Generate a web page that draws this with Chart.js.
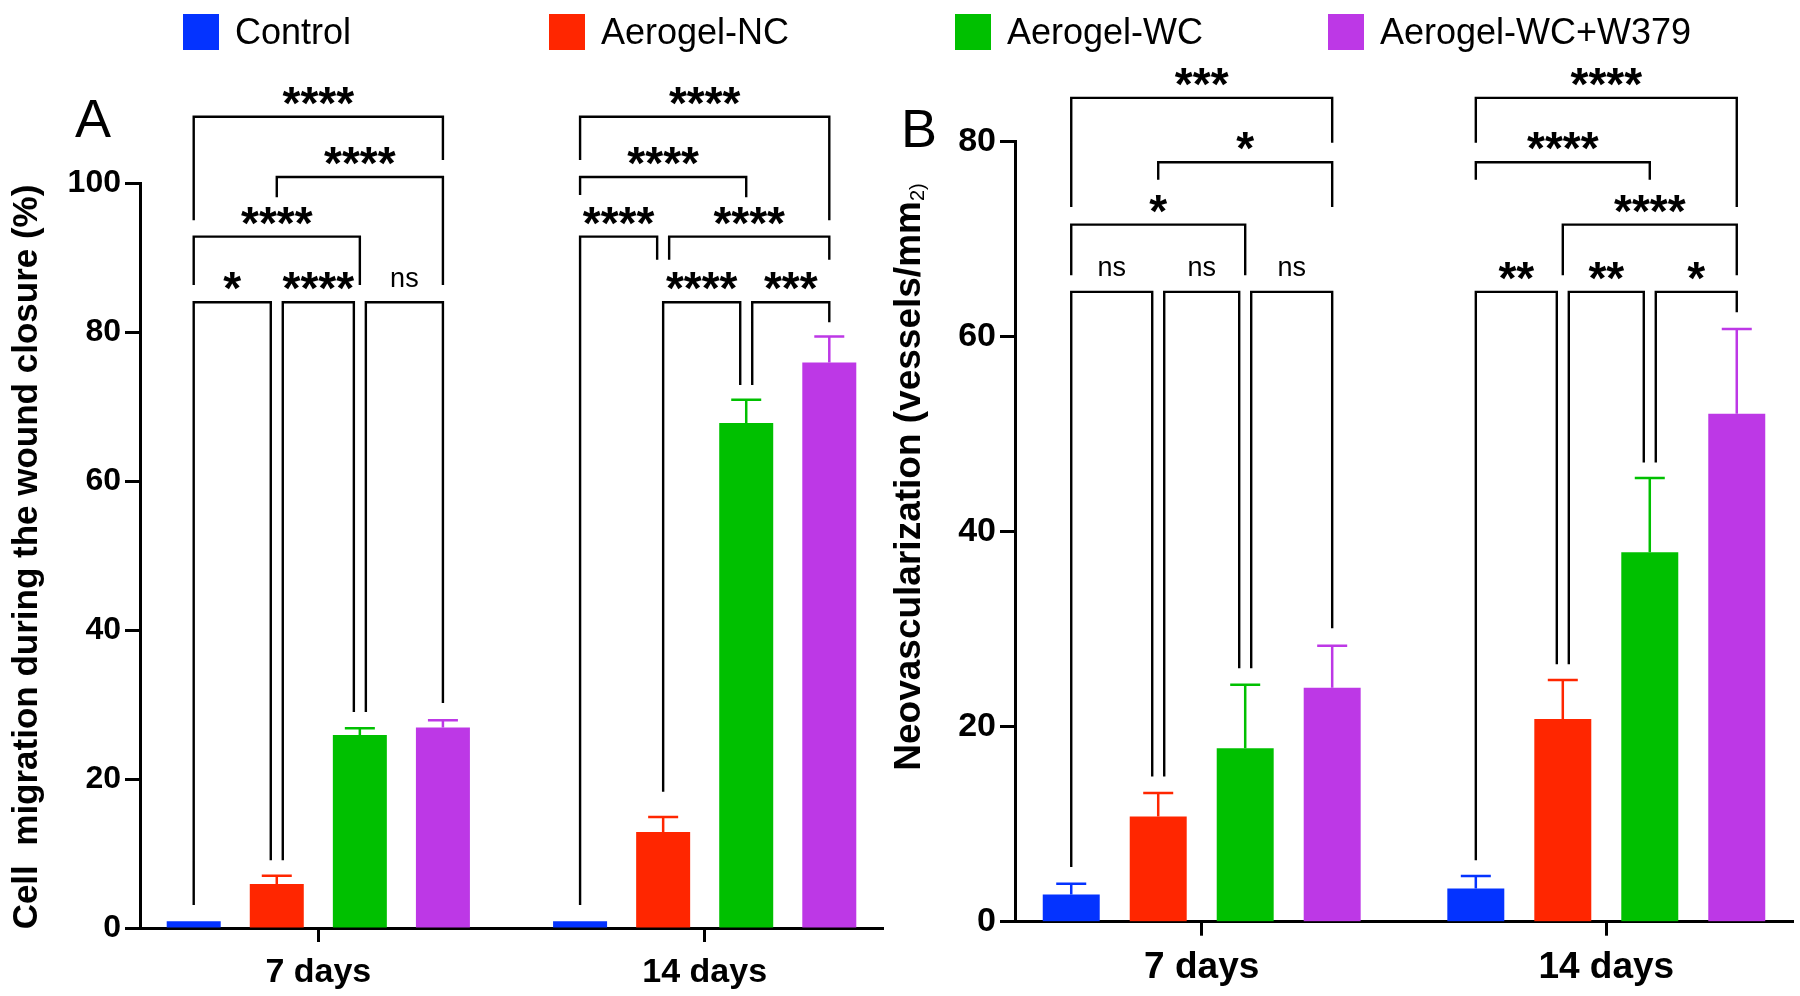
<!DOCTYPE html>
<html>
<head>
<meta charset="utf-8">
<script src="https://cdn.jsdelivr.net/npm/chart.js@4.4.0/dist/chart.umd.min.js"></script>
<style>
  body { margin: 0; background: #fff; }
  #wrap { position: relative; width: 1800px; height: 996px; overflow: hidden; }
  .panel { position: absolute; top: 0; height: 996px; }
  #panelA { left: 0; width: 890px; }
  #panelB { left: 886px; width: 914px; }
</style>
</head>
<body>
<div id="wrap">
  <div class="panel" id="panelA"><canvas id="chartA"></canvas></div>
  <div class="panel" id="panelB"><canvas id="chartB"></canvas></div>
</div>
<script>
// categories and groups
const days = ['7 days', '14 days'];
const groups = ['Control', 'Aerogel-NC', 'Aerogel-WC', 'Aerogel-WC+W379'];
const groupColors = ['#0433ff', '#ff2600', '#00c000', '#bd38e6'];

// A: cell migration during the wound closure (%), mean and SD
const migControl = [0.9, 0.9];
const migNC = [5.9, 12.9];
const migWC = [25.9, 67.8];
const migW379 = [26.9, 75.9];
const migControlSd = [0, 0];
const migNCSd = [1.1, 2.0];
const migWCSd = [0.9, 3.1];
const migW379Sd = [1.0, 3.5];

// B: neovascularization (vessels/mm2), mean and SD
const vesControl = [2.8, 3.4];
const vesNC = [10.8, 20.8];
const vesWC = [17.8, 37.9];
const vesW379 = [24.0, 52.1];
const vesControlSd = [1.1, 1.3];
const vesNCSd = [2.4, 4.0];
const vesWCSd = [6.5, 7.6];
const vesW379Sd = [4.3, 8.7];

const ticksA = [0, 20, 40, 60, 80, 100];
const ticksB = [0, 20, 40, 60, 80];

// significance brackets: [day, fromGroup, toGroup, level, leftLegEnd, rightLegEnd, label]
const bracketsA = [
  [0, 0, 3, 108.9, 95.0, 103.1, '****'],
  [0, 1, 3, 100.8, 98.1, 86.3, '****'],
  [0, 0, 2, 92.8, 86.3, 86.3, '****'],
  [0, 0, 1, 84.0, 3.1, 9.1, '*'],
  [0, 1, 2, 84.0, 9.1, 29.0, '****'],
  [0, 2, 3, 84.0, 29.0, 30.2, 'ns'],
  [1, 0, 3, 108.9, 103.1, 95.0, '****'],
  [1, 0, 2, 100.8, 98.4, 98.1, '****'],
  [1, 0, 1, 92.8, 3.1, 89.7, '****'],
  [1, 1, 3, 92.8, 89.7, 89.7, '****'],
  [1, 1, 2, 84.0, 18.3, 72.9, '****'],
  [1, 2, 3, 84.0, 72.9, 81.3, '***']
];
const bracketsB = [
  [0, 0, 3, 84.5, 73.3, 79.9, '***'],
  [0, 1, 3, 77.9, 76.1, 73.3, '*'],
  [0, 0, 2, 71.5, 66.3, 66.3, '*'],
  [0, 0, 1, 64.6, 5.6, 14.9, 'ns'],
  [0, 1, 2, 64.6, 14.9, 26.0, 'ns'],
  [0, 2, 3, 64.6, 26.0, 30.1, 'ns'],
  [1, 0, 3, 84.5, 79.9, 73.3, '****'],
  [1, 0, 2, 77.9, 76.1, 76.1, '****'],
  [1, 1, 3, 71.5, 66.3, 66.3, '****'],
  [1, 0, 1, 64.6, 6.3, 26.4, '**'],
  [1, 1, 2, 64.6, 26.4, 47.1, '**'],
  [1, 2, 3, 64.6, 47.1, 62.5, '*']
];

const family = "'Liberation Sans', Arial, Helvetica, sans-serif";

function barX(chart, group, day) {
  return chart.getDatasetMeta(group).data[day].x;
}

// upward SD whiskers in the colour of the bar
function drawErrorBars(chart, sd) {
  const ctx = chart.ctx;
  const y = chart.scales.y;
  ctx.save();
  ctx.lineWidth = 2.5;
  chart.data.datasets.forEach((ds, i) => {
    const meta = chart.getDatasetMeta(i);
    ctx.strokeStyle = ds.backgroundColor;
    ds.data.forEach((v, j) => {
      if (!sd[i][j]) return;
      const x = meta.data[j].x;
      const top = y.getPixelForValue(v + sd[i][j]);
      ctx.beginPath();
      ctx.moveTo(x, y.getPixelForValue(v));
      ctx.lineTo(x, top);
      ctx.moveTo(x - 15, top);
      ctx.lineTo(x + 15, top);
      ctx.stroke();
    });
  });
  ctx.restore();
}

function drawBrackets(chart, list) {
  const ctx = chart.ctx;
  const y = chart.scales.y;
  ctx.save();
  ctx.strokeStyle = '#000';
  ctx.fillStyle = '#000';
  ctx.lineWidth = 2.4;
  ctx.lineJoin = 'miter';
  list.forEach(b => {
    const [day, from, to, level, leftEnd, rightEnd, label] = b;
    // brackets that sit on the same row and share a bar get their legs pulled apart
    const sameRow = list.filter(o => o !== b && o[0] === day && o[3] === level);
    const x1 = barX(chart, from, day) + (sameRow.some(o => o[2] === from) ? 6 : 0);
    const x2 = barX(chart, to, day) - (sameRow.some(o => o[1] === to) ? 6 : 0);
    const yl = y.getPixelForValue(level);
    ctx.beginPath();
    ctx.moveTo(x1, y.getPixelForValue(leftEnd));
    ctx.lineTo(x1, yl);
    ctx.lineTo(x2, yl);
    ctx.lineTo(x2, y.getPixelForValue(rightEnd));
    ctx.stroke();

    const stars = label !== 'ns';
    ctx.font = stars ? `bold 46px ${family}` : `27px ${family}`;
    ctx.textAlign = 'center';
    ctx.textBaseline = 'alphabetic';
    const m = ctx.measureText(label);
    const mid = yl - (stars ? 21 : 23);
    ctx.fillText(label, (x1 + x2) / 2, mid + (m.actualBoundingBoxAscent - m.actualBoundingBoxDescent) / 2);
  });
  ctx.restore();
}

function drawLegend(chart, p) {
  const ctx = chart.ctx;
  ctx.save();
  ctx.font = `36px ${family}`;
  ctx.textBaseline = 'alphabetic';
  ctx.textAlign = 'left';
  p.legend.forEach(item => {
    const x = item.x - p.offset;
    ctx.fillStyle = groupColors[item.group];
    ctx.fillRect(x, 14, 36, 36);
    ctx.fillStyle = '#000';
    ctx.fillText(groups[item.group], x + 52, 44);
  });
  ctx.restore();
}

function drawTitle(chart, p) {
  const ctx = chart.ctx;
  ctx.save();
  ctx.fillStyle = '#000';
  // panel letter
  ctx.font = `54px ${family}`;
  ctx.textAlign = 'left';
  ctx.textBaseline = 'alphabetic';
  ctx.fillText(p.letter, p.letterX - p.offset, p.letterY);
  // rotated axis title, possibly in several runs
  ctx.translate(p.titleX - p.offset, p.titleY);
  ctx.rotate(-Math.PI / 2);
  let total = 0;
  const widths = p.title.map(part => {
    ctx.font = part.font;
    const w = ctx.measureText(part.text).width;
    total += w;
    return w;
  });
  let x = -total / 2;
  p.title.forEach((part, i) => {
    ctx.font = part.font;
    ctx.fillText(part.text, x, part.dy || 0);
    x += widths[i];
  });
  ctx.restore();
}

function makePanel(p) {
  return new Chart(document.getElementById(p.canvas), {
    type: 'bar',
    data: {
      labels: days,
      datasets: p.means.map((m, i) => ({
        label: groups[i],
        data: m,
        backgroundColor: groupColors[i],
        borderWidth: 0,
        categoryPercentage: 0.86,
        barPercentage: p.barPct
      }))
    },
    options: {
      responsive: true,
      maintainAspectRatio: false,
      animation: false,
      events: [],
      layout: { padding: { top: p.top, right: p.right, bottom: 0, left: 0 } },
      plugins: { legend: { display: false }, tooltip: { enabled: false } },
      scales: {
        x: {
          // put the two day groups a little further apart than the default quarter points
          afterBuildTicks: s => { s._startValue = -0.4615; s._valueRange = 1.923; },
          afterFit: s => { s.height = 996 - p.bottom; },
          border: { color: '#000', width: 3 },
          grid: { offset: false, drawOnChartArea: false, tickLength: 14, tickWidth: 3, tickColor: '#000' },
          ticks: { color: '#000', padding: 10, font: { family, size: p.xFont, weight: 'bold' } }
        },
        y: {
          min: 0,
          max: p.ticks[p.ticks.length - 1],
          afterBuildTicks: s => { s.ticks = p.ticks.map(v => ({ value: v })); },
          afterFit: s => { s.width = p.left - p.offset; },
          border: { color: '#000', width: 3 },
          grid: { drawOnChartArea: false, tickLength: 15, tickWidth: 3, tickColor: '#000' },
          ticks: { color: '#000', padding: 4, font: { family, size: p.yFont, weight: 'bold' } }
        }
      }
    },
    plugins: [{
      id: 'panelExtras',
      afterDatasetsDraw(chart) {
        drawErrorBars(chart, p.sd);
        drawBrackets(chart, p.brackets);
      },
      afterDraw(chart) {
        drawLegend(chart, p);
        drawTitle(chart, p);
      }
    }]
  });
}

makePanel({
  canvas: 'chartA', offset: 0,
  means: [migControl, migNC, migWC, migW379],
  sd: [migControlSd, migNCSd, migWCSd, migW379Sd],
  ticks: ticksA, brackets: bracketsA,
  top: 183, bottom: 928, left: 140, right: 7, barPct: 0.65,
  xFont: 34, yFont: 32,
  legend: [{ group: 0, x: 183 }, { group: 1, x: 549 }],
  letter: 'A', letterX: 75, letterY: 137,
  titleX: 37, titleY: 557,
  title: [{ text: 'Cell  migration during the wound closure (%)', font: `bold 35px ${family}` }]
});

makePanel({
  canvas: 'chartB', offset: 886,
  means: [vesControl, vesNC, vesWC, vesW379],
  sd: [vesControlSd, vesNCSd, vesWCSd, vesW379Sd],
  ticks: ticksB, brackets: bracketsB,
  top: 141.7, bottom: 921.7, left: 1015, right: 7, barPct: 0.655,
  xFont: 37, yFont: 34,
  legend: [{ group: 2, x: 955 }, { group: 3, x: 1328 }],
  letter: 'B', letterX: 901, letterY: 147,
  titleX: 920, titleY: 477,
  title: [
    { text: 'Neovascularization (vessels/mm', font: `bold 37px ${family}` },
    { text: '2)', font: `20px ${family}`, dy: 4 }
  ]
});
</script>
</body>
</html>
